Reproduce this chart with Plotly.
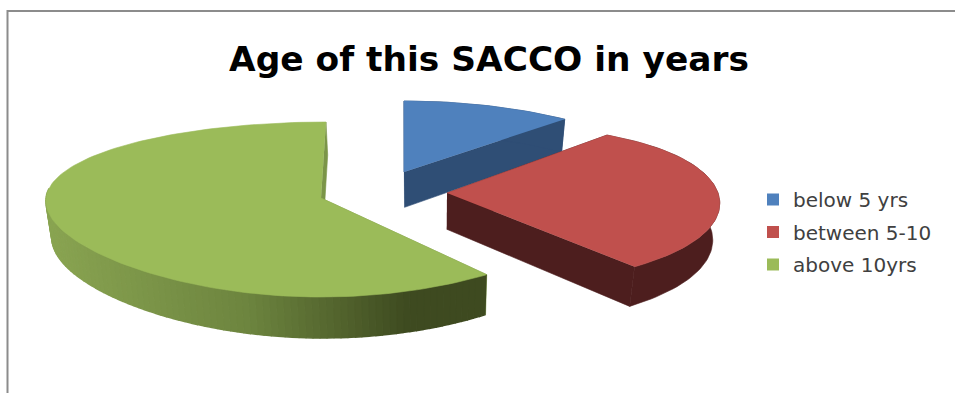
import numpy as np
import plotly.graph_objects as go

# Survey responses per age band of the SACCO
categories = ["below 5 yrs", "between 5-10", "above 10yrs"]
counts = [5, 14, 29]
top_colors = ["#4f81bd", "#c0504d", "#9bbb59"]

# Wall shading: (screen x, colour) stops for each slice
wall_stops = [
    [(0, (47, 78, 117)), (955, (47, 78, 117))],
    [(0, (77, 30, 30)), (955, (77, 30, 30))],
    [(50, (138, 165, 82)), (250, (109, 133, 63)), (410, (62, 74, 32)), (955, (62, 74, 32))],
]

# Per-slice projection of the tilted disc onto the page:
# centre, horizontal radius (r0, k, c) and vertical radius (r0, k, c), both as r0 - k*v + c*v^2;
# lean tips the far side of the slice sideways
projection = [
    dict(cx=404, cy=172, rx=(264, 0, 0), ry=(49.5, -21.5, 0), lean=0),
    dict(cx=447, cy=193, rx=(271, 28.5, 23), ry=(83, 12.6, 0), lean=0),
    dict(cx=321, cy=198, rx=(275, 10, -17), ry=(87.5, 11.5, 0), lean=5),
]
cut_face_x = [404, 447, 150]


def rim_point(p, theta):
    u, v = np.sin(theta), np.cos(theta)
    rx = p["rx"][0] - p["rx"][1] * v + p["rx"][2] * v ** 2
    ry = p["ry"][0] - p["ry"][1] * v + p["ry"][2] * v ** 2
    return p["cx"] + rx * u + p["lean"] * np.clip(v, 0, 1) ** 8, p["cy"] - ry * v


def drop(x, y):
    """Point on the underside of the pie directly below a point on the top face."""
    x = np.asarray(x, dtype=float)
    y = np.asarray(y, dtype=float)
    scale = np.where(x > 440, 0.975, 0.985)
    return 440 + (x - 440) * scale, y + 33 + (y - 120) * 0.045


def shade(stops, x):
    xs = [s[0] for s in stops]
    rgb = [int(np.interp(x, xs, [s[1][i] for s in stops])) for i in range(3)]
    return "rgb({},{},{})".format(*rgb)


def polygon(fig, xs, ys, color, edge=0.6):
    fig.add_trace(go.Scatter(
        x=list(xs), y=list(ys), mode="lines", fill="toself", fillcolor=color,
        line=dict(color=color, width=edge), hoverinfo="skip", showlegend=False,
    ))


fig = go.Figure()

fractions = np.array(counts, dtype=float) / sum(counts)
edges = np.concatenate([[0.0], np.cumsum(fractions)]) * 2 * np.pi

for i, name in enumerate(categories):
    p = projection[i]
    thetas = np.linspace(edges[i], edges[i + 1], max(6, int((edges[i + 1] - edges[i]) / np.radians(1.5))))
    rim_x, rim_y = rim_point(p, thetas)
    low_x, low_y = drop(rim_x, rim_y)
    ctr_low_x, ctr_low_y = drop(p["cx"], p["cy"])

    # Radial cut faces sit behind the rim wall and the top face
    for j in (0, -1):
        polygon(fig,
                [p["cx"], rim_x[j], low_x[j], float(ctr_low_x)],
                [p["cy"], rim_y[j], low_y[j], float(ctr_low_y)],
                shade(wall_stops[i], cut_face_x[i]))

    # Rim wall: one piece for flat colours, narrow overlapping strips on the near side for the gradient
    if wall_stops[i][0][1] == wall_stops[i][-1][1]:
        polygon(fig, np.r_[rim_x, low_x[::-1]], np.r_[rim_y, low_y[::-1]], shade(wall_stops[i], rim_x[0]))
    else:
        for j in range(len(thetas) - 1):
            if np.cos(thetas[j]) > 0.1 and np.cos(thetas[j + 1]) > 0.1:
                continue
            polygon(fig,
                    [rim_x[j], rim_x[j + 1], low_x[j + 1], low_x[j]],
                    [rim_y[j], rim_y[j + 1], low_y[j + 1], low_y[j]],
                    shade(wall_stops[i], (low_x[j] + low_x[j + 1]) / 2), edge=1.5)

    # Top face
    polygon(fig, np.r_[p["cx"], rim_x], np.r_[p["cy"], rim_y], top_colors[i])

# Legend entries, one group each so the rows can be spaced apart
for name, color in zip(categories, top_colors):
    fig.add_trace(go.Scatter(
        x=[None], y=[None], mode="markers", name=name, legendgroup=name,
        marker=dict(symbol="square", size=12, color=color), hoverinfo="skip",
    ))

fig.update_layout(
    width=955, height=393,
    margin=dict(l=0, r=0, t=0, b=0),
    paper_bgcolor="white", plot_bgcolor="white",
    xaxis=dict(range=[0, 955], visible=False, fixedrange=True),
    yaxis=dict(range=[393, 0], visible=False, fixedrange=True),
    title=dict(
        text="<b>Age of this SACCO in years</b>",
        font=dict(family="DejaVu Sans", size=34.4, color="black"),
        x=489 / 955, xanchor="center", xref="paper",
        y=1 - 58.5 / 393, yanchor="middle", yref="paper",
    ),
    legend=dict(
        x=753 / 955, xanchor="left", y=1 - 180 / 393, yanchor="top",
        font=dict(family="DejaVu Sans", size=20, color="#404040"),
        tracegroupgap=3.5, itemwidth=30, bgcolor="rgba(0,0,0,0)",
    ),
    shapes=[
        dict(type="line", xref="paper", yref="paper", x0=7.5 / 955, x1=1, y0=1 - 11 / 393, y1=1 - 11 / 393,
             line=dict(color="#8c8c8c", width=2)),
        dict(type="line", xref="paper", yref="paper", x0=7.5 / 955, x1=7.5 / 955, y0=0, y1=1 - 10 / 393,
             line=dict(color="#8c8c8c", width=2)),
    ],
)

fig.write_html("out.html")
